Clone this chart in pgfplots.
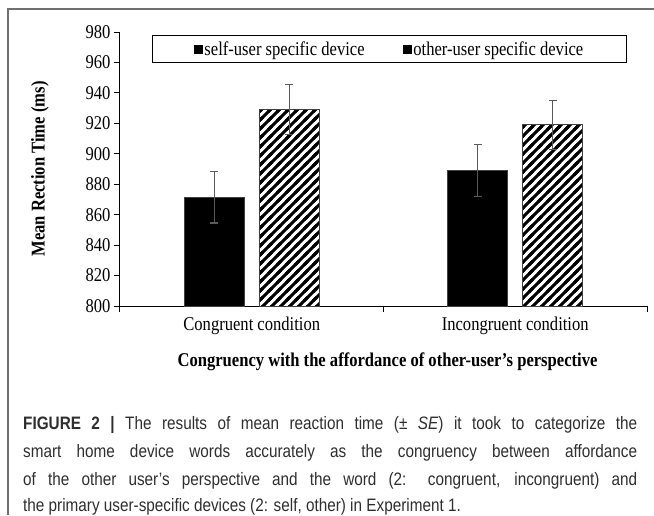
\documentclass[border=0pt]{standalone}
\usepackage{pgfplots}
\pgfplotsset{compat=1.18}
\usetikzlibrary{patterns}
\usepackage{fontspec}
\setmainfont{Liberation Serif}[FakeStretch=0.85]
\newfontfamily\capfont{Liberation Sans}[FakeStretch=0.85]
\definecolor{errgray}{HTML}{5A5A5A}
\definecolor{framegray}{HTML}{707070}
\definecolor{captext}{HTML}{2E2E2E}
\newcommand{\chartfont}{\fontsize{19.5}{22}\selectfont}
\pgfdeclarepatternformonly{hatchNE}{\pgfpoint{-1pt}{-1pt}}{\pgfpoint{10pt}{10pt}}{\pgfpoint{9pt}{9pt}}{%
  \pgfsetlinewidth{3pt}%
  \pgfpathmoveto{\pgfpoint{-2pt}{-2pt}}\pgfpathlineto{\pgfpoint{11pt}{11pt}}%
  \pgfpathmoveto{\pgfpoint{-2pt}{7pt}}\pgfpathlineto{\pgfpoint{2pt}{11pt}}%
  \pgfpathmoveto{\pgfpoint{7pt}{-2pt}}\pgfpathlineto{\pgfpoint{11pt}{2pt}}%
  \pgfusepath{stroke}}
\begin{document}
\begin{tikzpicture}[x=1pt,y=1pt]
\useasboundingbox (0,0) rectangle (654,-515);
\draw[framegray, line width=1.5pt] (8,-515) -- (8,-9) -- (654,-9);
\begin{axis}[
  at={(120pt,-306pt)}, anchor=south west,
  scale only axis, width=527pt, height=274pt,
  xmin=0.5, xmax=2.5, ymin=800, ymax=980,
  axis x line*=bottom, axis y line*=left,
  axis line style={black, line width=1pt},
  every tick/.style={black, line width=1pt},
  tick align=outside, major tick length=6pt,
  ytick={800,820,...,980},
  xtick={0.5,1.5,2.5}, xticklabels={},
  extra x ticks={1,2},
  extra x tick labels={Congruent condition, Incongruent condition},
  extra x tick style={major tick length=0pt, xticklabel style={yshift=-7pt}},
  ticklabel style={font=\chartfont},
  /pgf/number format/assume math mode=true,
  ybar=15pt, bar width=60pt,
  xlabel={Congruency with the affordance of other-user's perspective},
  ylabel={Mean Rection Time (ms)},
  every axis x label/.style={at={(axis description cs:0.5076,-0.204)}, anchor=center, font=\bfseries\chartfont},
  every axis y label/.style={at={(axis description cs:-0.152,0.5)}, rotate=90, anchor=center, font=\bfseries\chartfont},
  legend style={at={(0.5114,0.989)}, anchor=north, legend columns=2, draw=black, line width=1.2pt,
    inner xsep=41pt, inner ysep=4pt, font=\chartfont,
    /tikz/every even column/.append style={column sep=36pt}},
  legend cell align=left,
]
\addplot[fill=black, draw=darkgray, line width=0.8pt,
  legend image code/.code={\fill[black] (0pt,-4pt) rectangle (8pt,4pt);},
  error bars/.cd, y dir=both, y explicit,
  error bar style={errgray, line width=1.2pt},
  error mark options={errgray, rotate=90, mark size=4pt, line width=1.2pt}]
  coordinates {(1,871.5) +- (0,17) (2,889) +- (0,17)};
\addlegendentry{self-user specific device}
\addplot[pattern=hatchNE, pattern color=black, draw=darkgray, line width=0.8pt,
  legend image code/.code={\fill[black] (0pt,-4pt) rectangle (8pt,4pt); \draw[white, line width=1.2pt] (1.2pt,-2.8pt) -- (6.8pt,2.8pt); \draw[black, line width=0.8pt] (0.4pt,-3.6pt) rectangle (7.6pt,3.6pt);},
  error bars/.cd, y dir=both, y explicit,
  error bar style={errgray, line width=1.2pt},
  error mark options={errgray, rotate=90, mark size=4pt, line width=1.2pt}]
  coordinates {(1,929) +- (0,16.5) (2,919) +- (0,16)};
\addlegendentry{other-user specific device}
\end{axis}
\begin{scope}[every node/.style={anchor=base west, inner sep=0pt, text=captext, font=\capfont\fontsize{18}{24}\selectfont}]
\node at (23,-429) {\makebox[614pt][s]{\textbf{FIGURE 2 |} The results of mean reaction time (\textpm\ \textit{SE}) it took to categorize the}};
\node at (23,-457) {\makebox[614pt][s]{smart home device words accurately as the congruency between affordance}};
\node at (23,-485) {\makebox[614pt][s]{of the other user’s perspective and the word (2: congruent, incongruent) and}};
\node at (23,-511) {the primary user-specific devices (2: self, other) in Experiment 1.};
\end{scope}
\end{tikzpicture}
\end{document}
